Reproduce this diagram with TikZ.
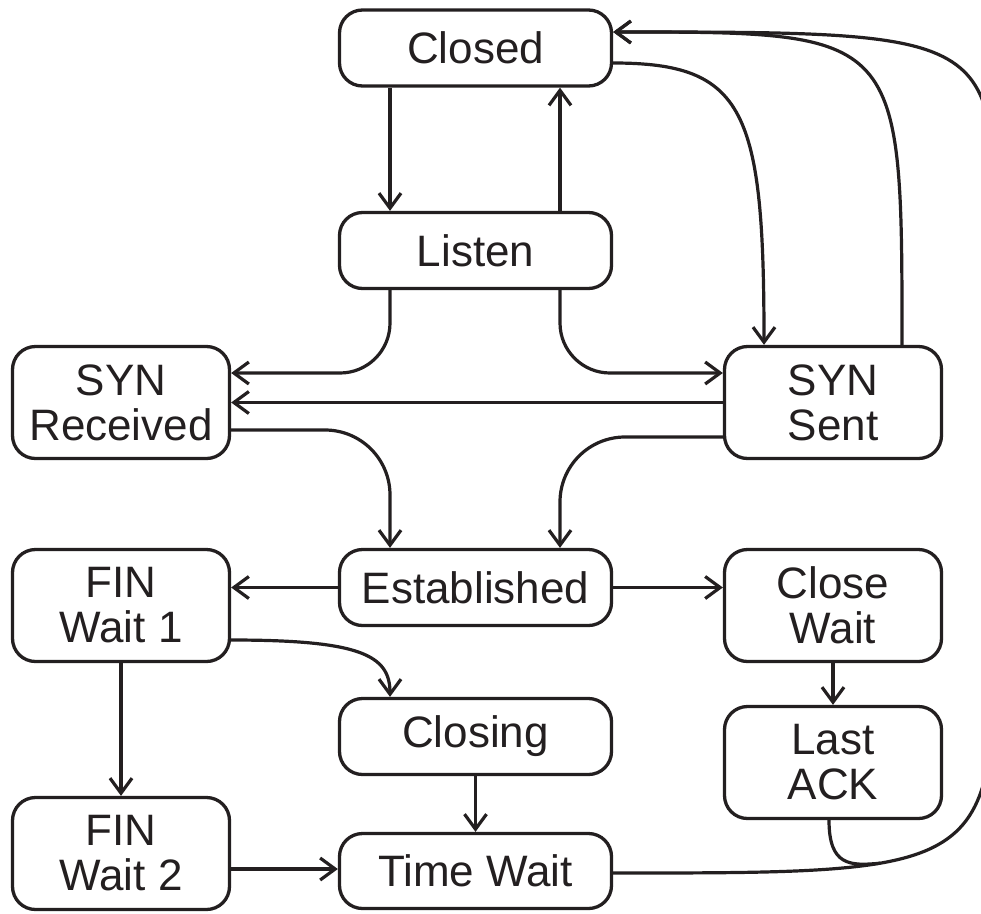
\documentclass[tikz,border=0pt]{standalone}
\usepackage{fontspec}
\setmainfont{Liberation Sans}
\usetikzlibrary{arrows.meta}
\definecolor{ink}{RGB}{35,31,32}
\begin{document}
\begin{tikzpicture}[x=1pt,y=-1pt,
  state/.style={draw=ink, line width=3.3pt, rounded corners=23pt, align=center,
    inner sep=0pt, text=ink, font=\fontsize{44}{45}\selectfont},
  wide/.style={state, minimum width=272pt, minimum height=76pt},
  narrow/.style={state, minimum width=217pt, minimum height=112pt},
  link/.style={draw=ink, line width=3.2pt},
  arr/.style={link, -{Straight Barb[length=15pt,width=22pt]}}
]
\clip (0,0) rectangle (981,913);

% states
\node[wide]   (closed)    at (475.5,48)    {Closed};
\node[wide]   (listen)    at (475.5,250.5) {Listen};
\node[narrow] (synrcvd)   at (121,402.5)   {SYN\\Received};
\node[narrow] (synsent)   at (833,402.5)   {SYN\\Sent};
\node[wide]   (estab)     at (475.5,587.5) {Established};
\node[narrow] (fin1)      at (121,605.5)   {FIN\\Wait 1};
\node[narrow] (closewait) at (833,605.5)   {Close\\Wait};
\node[wide]   (closing)   at (475.5,736.5) {Closing};
\node[narrow] (lastack)   at (833,762.5)   {Last\\ACK};
\node[narrow] (fin2)      at (121,853.5)   {FIN\\Wait 2};
\node[wide, minimum height=75pt] (timewait) at (475.5,871) {Time Wait};

% columns and rows where connectors leave or enter the boxes
\coordinate (cl)  at (390,0);
\coordinate (cr)  at (560,0);
\coordinate (cs1) at (764,0);
\coordinate (cs2) at (902,0);
\coordinate (cla) at (829,0);
\coordinate (ra)  at (0,373);
\coordinate (rb)  at (0,430);
\coordinate (rc)  at (0,437);
\coordinate (rd)  at (0,640);
\coordinate (re)  at (0,869);
\coordinate (rf)  at (0,63);
\coordinate (rg)  at (0,32);
\coordinate (rh)  at (0,873);

% opening
\draw[arr] (closed.south -| cl) -- (listen.north -| cl);
\draw[arr] (listen.north -| cr) -- (closed.south -| cr);
\draw[arr, rounded corners=50pt] (listen.south -| cl) |- (synrcvd.east |- ra);
\draw[arr, rounded corners=50pt] (listen.south -| cr) |- (synsent.west |- ra);
\draw[arr] (synsent.west) -- (synrcvd.east);
\draw[arr, rounded corners=65pt] (synrcvd.east |- rb) -| (estab.north -| cl);
\draw[arr, rounded corners=65pt] (synsent.west |- rc) -| (estab.north -| cr);
\draw[arr] (closed.east |- rf) .. controls (745,63) and (764,110) .. (synsent.north -| cs1);
\draw[arr] (synsent.north -| cs2) .. controls (902,32) and (902,32) .. (closed.east |- rg);

% closing
\draw[arr] (estab.west) -- (estab.west -| fin1.east);
\draw[arr] (estab.east) -- (estab.east -| closewait.west);
\draw[arr] (fin1.east |- rd) .. controls (360,640) and (390,655) .. (closing.north -| cl);
\draw[arr] (fin1.south) -- (fin2.north);
\draw[arr] (closewait.south) -- (lastack.north);
\draw[arr] (closing.south) -- (timewait.north);
\draw[arr] (fin2.east |- re) -- (timewait.west |- re);

% return to Closed around the right side
\draw[arr] (timewait.east |- rh) .. controls (995,873) and (995,873) .. (995,600)
  coordinate[pos=0.33] (merge)
  -- (995,250) .. controls (995,32) and (995,32) .. (closed.east |- rg);
\draw[link] (lastack.south -| cla) .. controls (829,866) and (850,866) .. (merge);
\end{tikzpicture}
\end{document}
